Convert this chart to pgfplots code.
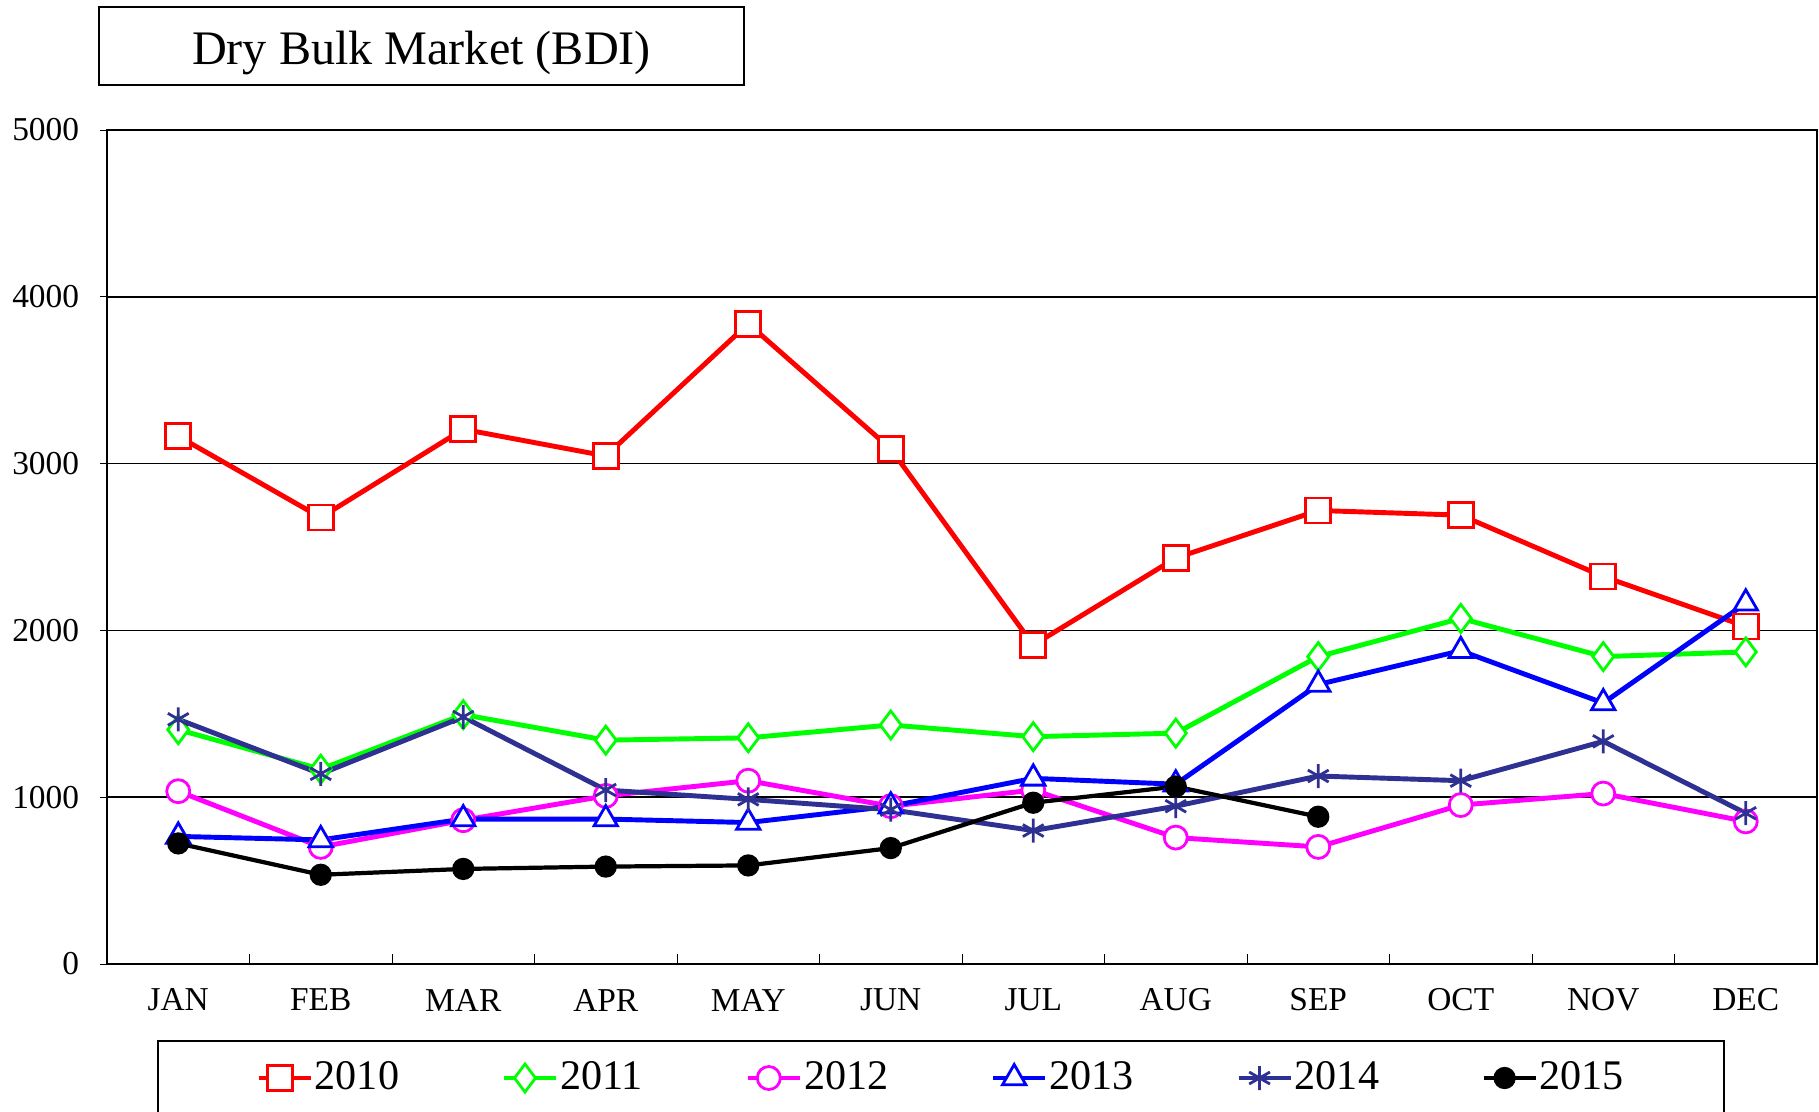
\documentclass[border=0pt]{standalone}
\usepackage{pgfplots}
\pgfplotsset{compat=1.18}
\usepackage{fontspec}
\setmainfont{Liberation Serif}
\definecolor{navy14}{RGB}{46,49,146}
\definecolor{green11}{RGB}{0,255,0}
\definecolor{mag12}{RGB}{255,0,255}
\definecolor{red10}{RGB}{255,0,0}
\definecolor{blue13}{RGB}{0,0,255}
\begin{document}
\begin{tikzpicture}
\useasboundingbox (0,0) rectangle (181.9mm,111.1mm);
% title box
\draw[line width=0.6pt] (9.9mm,102.6mm) rectangle (74.4mm,110.4mm);
\node[font=\fontsize{13.7}{16}\selectfont] at (42.15mm,105.8mm) {Dry Bulk Market (BDI)};
% legend frame
\draw[line width=0.5pt] (15.8mm,-5mm) rectangle (172.4mm,7.0mm);
\begin{axis}[
    at={(10.7mm,14.7mm)}, anchor=south west,
    width=171mm, height=83.4mm, scale only axis,
    xmin=-0.5, xmax=11.5, ymin=0, ymax=5000,
    xtick={0,...,11},
    xticklabels={JAN,FEB,MAR,APR,MAY,JUN,JUL,AUG,SEP,OCT,NOV,DEC},
    major x tick style={draw=none},
    minor xtick={0.5,1.5,...,10.5},
    minor tick length=1mm,
    xtick pos=bottom, ytick pos=left,
    ytick={0,1000,...,5000},
    ytick align=outside,
    major tick length=0.7mm,
    ymajorgrids, grid style={black, line width=0.5pt},
    axis line style={black, line width=0.6pt},
    tick style={black},
    scaled y ticks=false,
    /pgf/number format/assume math mode=true,
    /pgf/number format/set thousands separator={},
    tick label style={font=\fontsize{9.5}{11}\selectfont},
    xticklabel style={anchor=center, yshift=-3.6mm},
    yticklabel style={xshift=-0.85mm},
    legend columns=6,
    legend style={draw=none, fill=none, at={(0.0868,-0.1367)}, anchor=west,
        font=\fontsize{12}{14}\selectfont, inner sep=0pt,
        nodes={inner xsep=0.5pt},
        /tikz/every even column/.append style={column sep=10.06mm}},
    legend image code/.code={\draw[mark repeat=2,mark phase=2] plot coordinates {(0mm,0mm)(2.1mm,0mm)(4.2mm,0mm)};\path (4.2mm,0) -- (5.2mm,0);},
    every axis plot/.append style={line width=1.4pt},
]
\addplot[red10, mark=square*, mark size=1.25mm, mark options={fill=white, line width=0.8pt}] coordinates {
(0,3164)(1,2677)(2,3206)(3,3046)(4,3839)(5,3088)(6,1912)(7,2434)(8,2719)(9,2691)(10,2323)(11,2024)};
\addplot[green11, mark=diamond*, mark size=1.4mm, mark options={fill=white, line width=0.8pt}] coordinates {
(0,1405)(1,1168)(2,1495)(3,1342)(4,1356)(5,1433)(6,1363)(7,1384)(8,1843)(9,2072)(10,1843)(11,1871)};
\addplot[mag12, mark=*, mark size=1.15mm, mark options={fill=white, line width=0.8pt}] coordinates {
(0,1036)(1,702)(2,862)(3,1008)(4,1099)(5,946)(6,1043)(7,758)(8,702)(9,953)(10,1022)(11,855)};
\addplot[blue13, mark=triangle*, mark size=1.35mm, mark options={fill=white, line width=0.8pt}] coordinates {
(0,765)(1,744)(2,869)(3,869)(4,848)(5,946)(6,1113)(7,1078)(8,1676)(9,1878)(10,1565)(11,2163)};
\addplot[navy14, mark=asterisk, mark size=1.2mm, mark options={line width=0.8pt}] coordinates {
(0,1467)(1,1140)(2,1481)(3,1043)(4,987)(5,925)(6,800)(7,946)(8,1127)(9,1099)(10,1335)(11,904)};
\addplot[black, line width=1.2pt, mark=*, mark size=0.9mm] coordinates {
(0,723)(1,535)(2,570)(3,584)(4,591)(5,695)(6,967)(7,1064)(8,883)};
\legend{2010,2011,2012,2013,2014,2015}
\end{axis}
\end{tikzpicture}
\end{document}
